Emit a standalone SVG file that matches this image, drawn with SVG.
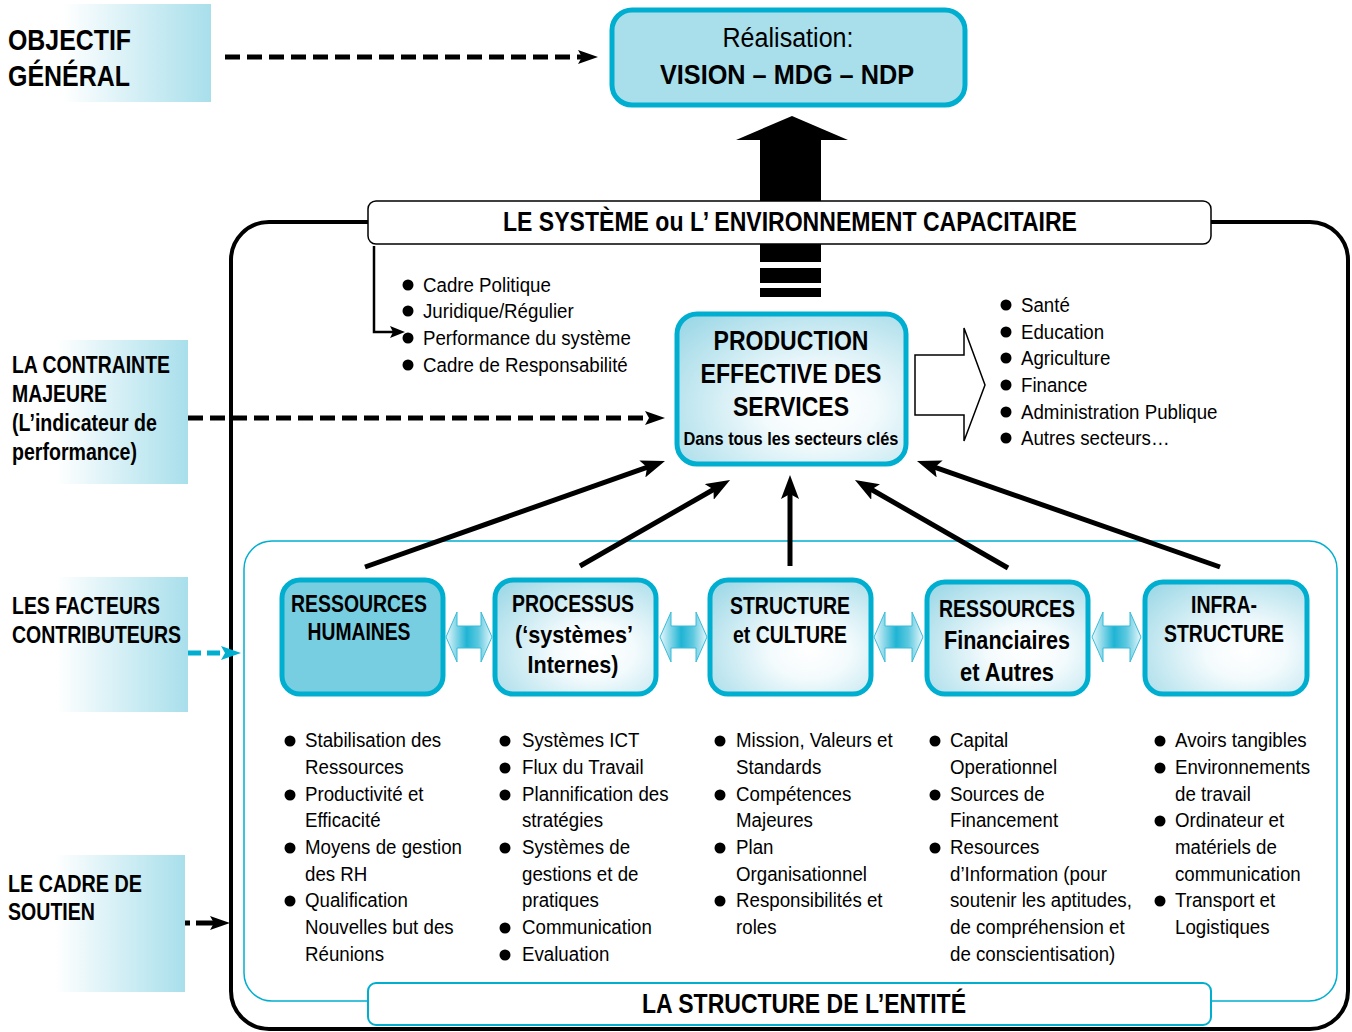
<svg xmlns="http://www.w3.org/2000/svg" width="1352" height="1032" viewBox="0 0 1352 1032">
<style>
.b{font-family:"Liberation Sans",Arial,sans-serif;font-weight:bold;fill:#000}
.r{font-family:"Liberation Sans",Arial,sans-serif;fill:#000}
.lbl{fill:url(#lblGrad)}
.cbox{stroke:#00aed0;stroke-width:5}
.bidir{fill:url(#bidirGrad);stroke:#3bbcd8;stroke-width:1}
.thick{stroke:#000;stroke-width:5;fill:none}
</style>
<defs>
<linearGradient id="lblGrad" x1="0" y1="0" x2="1" y2="0">
<stop offset="0" stop-color="#fff"/>
<stop offset="0.3" stop-color="#fff"/>
<stop offset="1" stop-color="#a8dfeb"/>
</linearGradient>
<radialGradient id="boxGrad" cx="0.62" cy="0.62" r="0.8">
<stop offset="0" stop-color="#fff"/>
<stop offset="0.3" stop-color="#f4fbfd"/>
<stop offset="1" stop-color="#9fd9e7"/>
</radialGradient>
<linearGradient id="bidirGrad" x1="0" y1="0" x2="1" y2="0">
<stop offset="0" stop-color="#e8f7fb"/>
<stop offset="0.45" stop-color="#1fb4d4"/>
<stop offset="0.7" stop-color="#5cc8df"/>
<stop offset="1" stop-color="#e8f7fb"/>
</linearGradient>
<marker id="ah" markerUnits="userSpaceOnUse" markerWidth="26" markerHeight="18" refX="10" refY="9" orient="auto">
<path d="M0,0 L24,9 L0,18 L5,9 z" fill="#000"/>
</marker>
<marker id="ahd" markerUnits="userSpaceOnUse" markerWidth="22" markerHeight="14" refX="8" refY="7" orient="auto">
<path d="M0,0 L20,7 L0,14 L4,7 z" fill="#000"/>
</marker>
<marker id="ahb" markerUnits="userSpaceOnUse" markerWidth="22" markerHeight="14" refX="8" refY="7" orient="auto">
<path d="M0,0 L20,7 L0,14 L4,7 z" fill="#00aed0"/>
</marker>
<marker id="ahs" markerUnits="userSpaceOnUse" markerWidth="16" markerHeight="12" refX="6" refY="6" orient="auto">
<path d="M0,0 L15,6 L0,12 L3,6 z" fill="#000"/>
</marker>
</defs>
<rect width="1352" height="1032" fill="#fff"/>

<!-- Outer system frame -->
<g id="frame-systeme">
<rect x="231" y="222" width="1117" height="807" rx="38" fill="none" stroke="#000" stroke-width="4"/>
</g>
<g id="frame-entite">
<rect x="244" y="541" width="1093" height="460" rx="28" fill="none" stroke="#00aed0" stroke-width="1.5"/>
</g>

<!-- Left labels -->
<g id="objectif-general">
<rect class="lbl" x="0" y="4" width="211" height="98"/>
<text class="b" font-size="30" x="8" y="50" textLength="123" lengthAdjust="spacingAndGlyphs">OBJECTIF</text>
<text class="b" font-size="30" x="8" y="86" textLength="122" lengthAdjust="spacingAndGlyphs">GÉNÉRAL</text>
</g>
<g id="contrainte-majeure">
<rect class="lbl" x="0" y="340" width="188" height="144"/>
<text class="b" font-size="23" x="12" y="373" textLength="158" lengthAdjust="spacingAndGlyphs">LA CONTRAINTE</text>
<text class="b" font-size="23" x="12" y="402" textLength="95" lengthAdjust="spacingAndGlyphs">MAJEURE</text>
<text class="b" font-size="23" x="12" y="431" textLength="145" lengthAdjust="spacingAndGlyphs">(L’indicateur de</text>
<text class="b" font-size="23" x="12" y="460" textLength="125" lengthAdjust="spacingAndGlyphs">performance)</text>
</g>
<g id="facteurs-contributeurs">
<rect class="lbl" x="0" y="577" width="188" height="135"/>
<text class="b" font-size="23" x="12" y="614" textLength="148" lengthAdjust="spacingAndGlyphs">LES FACTEURS</text>
<text class="b" font-size="23" x="12" y="643" textLength="169" lengthAdjust="spacingAndGlyphs">CONTRIBUTEURS</text>
</g>
<g id="cadre-soutien">
<rect class="lbl" x="0" y="855" width="185" height="137"/>
<text class="b" font-size="23" x="8" y="892" textLength="134" lengthAdjust="spacingAndGlyphs">LE CADRE DE</text>
<text class="b" font-size="23" x="8" y="920" textLength="87" lengthAdjust="spacingAndGlyphs">SOUTIEN</text>
</g>

<!-- Top goal box -->
<g id="realisation">
<rect x="612" y="10" width="353" height="95" rx="20" fill="#a8dfeb" stroke="#00aed0" stroke-width="5"/>
<text class="r" font-size="27" x="788" y="47" text-anchor="middle" textLength="131" lengthAdjust="spacingAndGlyphs">Réalisation:</text>
<text class="b" font-size="28" x="787" y="84" text-anchor="middle" textLength="254" lengthAdjust="spacingAndGlyphs">VISION – MDG – NDP</text>
</g>

<!-- Big up arrow -->
<g id="big-arrow">
<polygon points="760,205 760,140 736,140 792,116 848,140 821,140 821,205" fill="#000"/>
<rect x="760" y="244" width="61" height="18" fill="#000"/>
<rect x="760" y="268" width="61" height="15" fill="#000"/>
<rect x="760" y="288" width="61" height="9" fill="#000"/>
</g>

<!-- System title bar -->
<g id="titre-systeme">
<rect x="368" y="201" width="843" height="43" rx="8" fill="#fff" stroke="#000" stroke-width="1.5"/>
<text class="b" font-size="27" x="790" y="231" text-anchor="middle" textLength="574" lengthAdjust="spacingAndGlyphs">LE SYSTÈME ou L’ ENVIRONNEMENT CAPACITAIRE</text>
</g>

<!-- System list -->
<g id="liste-systeme">
<circle cx="408" cy="285" r="5.5"/><circle cx="408" cy="311" r="5.5"/><circle cx="408" cy="338" r="5.5"/><circle cx="408" cy="365" r="5.5"/>
<g class="r" font-size="20" transform="translate(423,0) scale(0.935,1)">
<text y="292">Cadre Politique</text>
<text y="318">Juridique/Régulier</text>
<text y="345">Performance du système</text>
<text y="372">Cadre de Responsabilité</text>
</g>
</g>

<!-- Production box -->
<g id="production">
<rect class="cbox" x="677" y="314" width="229" height="150" rx="20" fill="url(#boxGrad)"/>
<text class="b" font-size="27" x="791" y="350" text-anchor="middle" textLength="155" lengthAdjust="spacingAndGlyphs">PRODUCTION</text>
<text class="b" font-size="27" x="791" y="383" text-anchor="middle" textLength="181" lengthAdjust="spacingAndGlyphs">EFFECTIVE DES</text>
<text class="b" font-size="27" x="791" y="416" text-anchor="middle" textLength="116" lengthAdjust="spacingAndGlyphs">SERVICES</text>
<text class="b" font-size="19" x="791" y="445" text-anchor="middle" textLength="215" lengthAdjust="spacingAndGlyphs">Dans tous les secteurs clés</text>
</g>

<!-- Sector list -->
<g id="secteurs">
<circle cx="1006" cy="305" r="5.5"/><circle cx="1006" cy="332" r="5.5"/><circle cx="1006" cy="358" r="5.5"/><circle cx="1006" cy="385" r="5.5"/><circle cx="1006" cy="412" r="5.5"/><circle cx="1006" cy="438" r="5.5"/>
<g class="r" font-size="20" transform="translate(1021,0) scale(0.935,1)">
<text y="312">Santé</text>
<text y="339">Education</text>
<text y="365">Agriculture</text>
<text y="392">Finance</text>
<text y="419">Administration Publique</text>
<text y="445">Autres secteurs…</text>
</g>
</g>

<!-- Factor boxes -->
<g id="ressources-humaines">
<rect class="cbox" x="282" y="580" width="161" height="114" rx="18" fill="#77cee1"/>
<text class="b" font-size="23" x="359" y="612" text-anchor="middle" textLength="136" lengthAdjust="spacingAndGlyphs">RESSOURCES</text>
<text class="b" font-size="23" x="359" y="640" text-anchor="middle" textLength="103" lengthAdjust="spacingAndGlyphs">HUMAINES</text>
</g>
<g id="processus">
<rect class="cbox" x="495" y="580" width="161" height="114" rx="18" fill="url(#boxGrad)"/>
<text class="b" font-size="23" x="573" y="612" text-anchor="middle" textLength="122" lengthAdjust="spacingAndGlyphs">PROCESSUS</text>
<text class="b" font-size="24" x="574" y="643" text-anchor="middle" textLength="118" lengthAdjust="spacingAndGlyphs">(‘systèmes’</text>
<text class="b" font-size="24" x="573" y="673" text-anchor="middle" textLength="91" lengthAdjust="spacingAndGlyphs">Internes)</text>
</g>
<g id="structure-culture">
<rect class="cbox" x="710" y="580" width="161" height="114" rx="18" fill="url(#boxGrad)"/>
<text class="b" font-size="23" x="790" y="614" text-anchor="middle" textLength="120" lengthAdjust="spacingAndGlyphs">STRUCTURE</text>
<text class="b" font-size="23" x="790" y="643" text-anchor="middle" textLength="114" lengthAdjust="spacingAndGlyphs">et CULTURE</text>
</g>
<g id="ressources-financiaires">
<rect class="cbox" x="927" y="582" width="161" height="112" rx="18" fill="url(#boxGrad)"/>
<text class="b" font-size="23" x="1007" y="617" text-anchor="middle" textLength="136" lengthAdjust="spacingAndGlyphs">RESSOURCES</text>
<text class="b" font-size="25" x="1007" y="649" text-anchor="middle" textLength="126" lengthAdjust="spacingAndGlyphs">Financiaires</text>
<text class="b" font-size="25" x="1007" y="681" text-anchor="middle" textLength="94" lengthAdjust="spacingAndGlyphs">et Autres</text>
</g>
<g id="infrastructure">
<rect class="cbox" x="1145" y="582" width="162" height="112" rx="18" fill="url(#boxGrad)"/>
<text class="b" font-size="23" x="1224" y="613" text-anchor="middle" textLength="66" lengthAdjust="spacingAndGlyphs">INFRA-</text>
<text class="b" font-size="23" x="1224" y="642" text-anchor="middle" textLength="120" lengthAdjust="spacingAndGlyphs">STRUCTURE</text>
</g>

<!-- Factor bullet lists -->
<g id="liste-rh">
<circle cx="290" cy="741" r="5.5"/><circle cx="290" cy="795" r="5.5"/><circle cx="290" cy="848" r="5.5"/><circle cx="290" cy="901" r="5.5"/>
<g class="r" font-size="20" transform="translate(305,0) scale(0.935,1)">
<text y="747">Stabilisation des</text>
<text y="774">Ressources</text>
<text y="801">Productivité et</text>
<text y="827">Efficacité</text>
<text y="854">Moyens de gestion</text>
<text y="881">des RH</text>
<text y="907">Qualification</text>
<text y="934">Nouvelles but des</text>
<text y="961">Réunions</text>
</g>
</g>
<g id="liste-processus">
<circle cx="505" cy="741" r="5.5"/><circle cx="505" cy="768" r="5.5"/><circle cx="505" cy="795" r="5.5"/><circle cx="505" cy="848" r="5.5"/><circle cx="505" cy="928" r="5.5"/><circle cx="505" cy="955" r="5.5"/>
<g class="r" font-size="20" transform="translate(522,0) scale(0.935,1)">
<text y="747">Systèmes ICT</text>
<text y="774">Flux du Travail</text>
<text y="801">Plannification des</text>
<text y="827">stratégies</text>
<text y="854">Systèmes de</text>
<text y="881">gestions et de</text>
<text y="907">pratiques</text>
<text y="934">Communication</text>
<text y="961">Evaluation</text>
</g>
</g>
<g id="liste-structure">
<circle cx="720" cy="741" r="5.5"/><circle cx="720" cy="795" r="5.5"/><circle cx="720" cy="848" r="5.5"/><circle cx="720" cy="901" r="5.5"/>
<g class="r" font-size="20" transform="translate(736,0) scale(0.935,1)">
<text y="747">Mission, Valeurs et</text>
<text y="774">Standards</text>
<text y="801">Compétences</text>
<text y="827">Majeures</text>
<text y="854">Plan</text>
<text y="881">Organisationnel</text>
<text y="907">Responsibilités et</text>
<text y="934">roles</text>
</g>
</g>
<g id="liste-financiaires">
<circle cx="935" cy="741" r="5.5"/><circle cx="935" cy="795" r="5.5"/><circle cx="935" cy="848" r="5.5"/>
<g class="r" font-size="20" transform="translate(950,0) scale(0.935,1)">
<text y="747">Capital</text>
<text y="774">Operationnel</text>
<text y="801">Sources de</text>
<text y="827">Financement</text>
<text y="854">Resources</text>
<text y="881">d’Information (pour</text>
<text y="907">soutenir les aptitudes,</text>
<text y="934">de compréhension et</text>
<text y="961">de conscientisation)</text>
</g>
</g>
<g id="liste-infrastructure">
<circle cx="1160" cy="741" r="5.5"/><circle cx="1160" cy="768" r="5.5"/><circle cx="1160" cy="821" r="5.5"/><circle cx="1160" cy="901" r="5.5"/>
<g class="r" font-size="20" transform="translate(1175,0) scale(0.935,1)">
<text y="747">Avoirs tangibles</text>
<text y="774">Environnements</text>
<text y="801">de travail</text>
<text y="827">Ordinateur et</text>
<text y="854">matériels de</text>
<text y="881">communication</text>
<text y="907">Transport et</text>
<text y="934">Logistiques</text>
</g>
</g>

<!-- Entity title bar -->
<g id="titre-entite">
<rect x="368" y="983" width="843" height="42" rx="8" fill="#fff" stroke="#00aed0" stroke-width="2"/>
<text class="b" font-size="27" x="804" y="1013" text-anchor="middle" textLength="324" lengthAdjust="spacingAndGlyphs">LA STRUCTURE DE L’ENTITÉ</text>
</g>

<!-- Connectors -->
<g id="connectors">
<line x1="225" y1="57" x2="586" y2="57" stroke="#000" stroke-width="5" stroke-dasharray="15 7" marker-end="url(#ahd)"/>
<line x1="188" y1="418" x2="653" y2="418" stroke="#000" stroke-width="5" stroke-dasharray="15 7" marker-end="url(#ahd)"/>
<line x1="188" y1="653" x2="229" y2="653" stroke="#00aed0" stroke-width="5" stroke-dasharray="13 6" marker-end="url(#ahb)"/>
<line x1="185" y1="923" x2="218" y2="923" stroke="#000" stroke-width="5" stroke-dasharray="5 6 30" marker-end="url(#ahd)"/>
<polyline points="374,246 374,332 396,332" fill="none" stroke="#000" stroke-width="2.5" marker-end="url(#ahs)"/>
<line class="thick" x1="365" y1="567" x2="651.8" y2="465.6" marker-end="url(#ah)"/>
<line class="thick" x1="580" y1="566" x2="717.9" y2="487" marker-end="url(#ah)"/>
<line class="thick" x1="790" y1="566" x2="790" y2="489" marker-end="url(#ah)"/>
<line class="thick" x1="1008" y1="568" x2="867.1" y2="487" marker-end="url(#ah)"/>
<line class="thick" x1="1220" y1="567" x2="930.2" y2="465.6" marker-end="url(#ah)"/>
<path d="M915,355 L964,355 L964,328 L985,385 L964,441 L964,415 L915,415 Z" fill="#fff" stroke="#000" stroke-width="1.5"/>
<path class="bidir" d="M446,637 L457,612 L457,626 L481,626 L481,612 L492,637 L481,662 L481,648 L457,648 L457,662 Z"/>
<path class="bidir" d="M660,637 L671,612 L671,626 L696,626 L696,612 L707,637 L696,662 L696,648 L671,648 L671,662 Z"/>
<path class="bidir" d="M874,637 L885,612 L885,626 L912,626 L912,612 L923,637 L912,662 L912,648 L885,648 L885,662 Z"/>
<path class="bidir" d="M1092,637 L1103,612 L1103,626 L1130,626 L1130,612 L1141,637 L1130,662 L1130,648 L1103,648 L1103,662 Z"/>
</g>
</svg>
